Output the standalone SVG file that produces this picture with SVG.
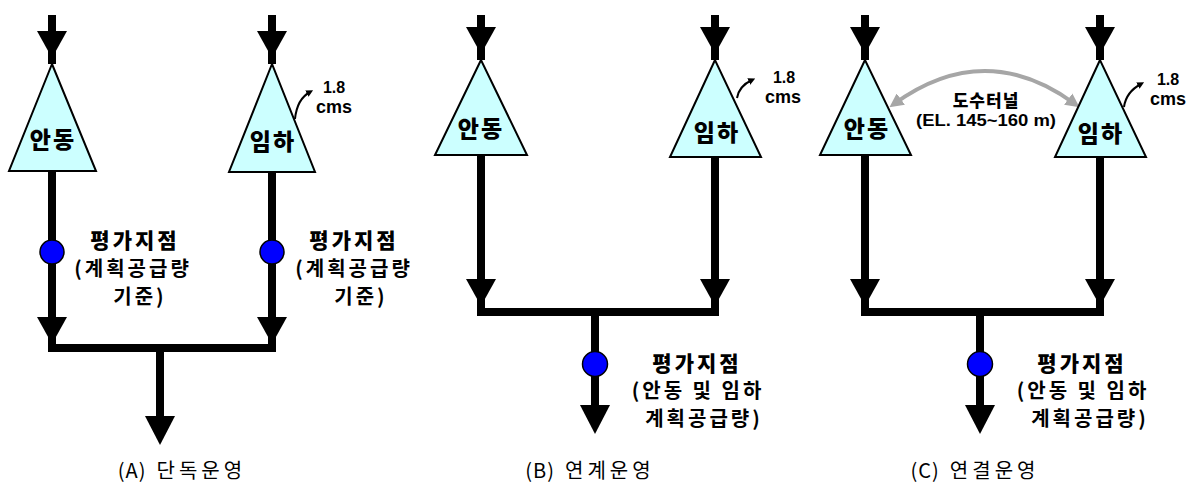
<svg xmlns="http://www.w3.org/2000/svg" width="1197" height="484" viewBox="0 0 1197 484">
<style>
.res{fill:#ccffff;stroke:#000;stroke-width:2;stroke-linejoin:miter}
.pt{fill:#0000ff;stroke:#000;stroke-width:1.5}
.flow{fill:none;stroke:#000;stroke-width:8;stroke-linejoin:miter;stroke-linecap:butt}
.ah{fill:#000}
.rl{font-family:"Noto Sans CJK KR","Noto Sans",sans-serif;font-weight:900;font-size:23px;letter-spacing:2px;text-anchor:middle}
.ev{font-family:"Noto Sans CJK KR","Noto Sans",sans-serif;font-weight:900;font-size:21px;letter-spacing:3px;text-anchor:middle}
.ev2{font-family:"Noto Sans CJK KR","Noto Sans",sans-serif;font-weight:bold;font-size:20px;letter-spacing:3px;text-anchor:middle}
.cap{font-family:"Noto Sans CJK KR","Noto Sans",sans-serif;font-size:20px;text-anchor:middle;letter-spacing:1px}
.ks{letter-spacing:4px}
.q{font-family:"Liberation Sans",Arial,sans-serif;font-weight:bold;text-anchor:middle}
.sm{fill:none;stroke:#000;stroke-width:2}
.tun{fill:none;stroke:#a6a6a6;stroke-width:4}
</style>
<defs>
<path id="ahA" d="M-15,0 L15,0 L0,27 Z"/>
<path id="ahO" d="M-15,0 L15,0 L0,29 Z"/>
<marker id="sa" viewBox="0 0 10 10" refX="5" refY="5" markerWidth="7" markerHeight="7" orient="auto" markerUnits="userSpaceOnUse">
<path d="M0,0 L10,5 L0,10 Z" fill="#000"/>
</marker>
<marker id="ga" viewBox="0 0 10 10" refX="6" refY="5" markerWidth="14" markerHeight="14" orient="auto-start-reverse" markerUnits="userSpaceOnUse">
<path d="M0,0 L10,5 L0,10 Z" fill="#a6a6a6"/>
</marker>
</defs>

<g id="connectors">
<path class="flow" d="M52,15 V64"/>
<path class="flow" d="M272,15 V64"/>
<path class="flow" d="M52,171 V348 H272 V172"/>
<path class="flow" d="M160,348 V430"/>
<use href="#ahA" class="ah" x="52" y="31"/>
<use href="#ahA" class="ah" x="272" y="31"/>
<use href="#ahA" class="ah" x="52" y="317"/>
<use href="#ahA" class="ah" x="272" y="317"/>
<use href="#ahO" class="ah" x="160" y="416"/>
<path class="flow" d="M481,15 V60"/>
<path class="flow" d="M715,15 V60"/>
<path class="flow" d="M481,155 V312 H715 V157"/>
<path class="flow" d="M595,312 V420"/>
<use href="#ahA" class="ah" x="481" y="27"/>
<use href="#ahA" class="ah" x="715" y="27"/>
<use href="#ahA" class="ah" x="481" y="279"/>
<use href="#ahA" class="ah" x="715" y="279"/>
<use href="#ahO" class="ah" x="595" y="405"/>
<path class="flow" d="M865,15 V60"/>
<path class="flow" d="M1100,15 V60"/>
<path class="flow" d="M865,155 V312 H1100 V157"/>
<path class="flow" d="M980,312 V420"/>
<use href="#ahA" class="ah" x="865" y="27"/>
<use href="#ahA" class="ah" x="1100" y="27"/>
<use href="#ahA" class="ah" x="865" y="279"/>
<use href="#ahA" class="ah" x="1100" y="279"/>
<use href="#ahO" class="ah" x="980" y="405"/>
<path class="tun" d="M894,104 Q985,38 1075,104" marker-start="url(#ga)" marker-end="url(#ga)"/>
<path class="sm" d="M295,119 Q297,99 310,92" marker-end="url(#sa)"/>
<path class="sm" d="M737,98 Q739,86 752,80" marker-end="url(#sa)"/>
<path class="sm" d="M1124,107 Q1126,92 1141,84" marker-end="url(#sa)"/>
</g>

<g id="A-andong"><polygon class="res" points="52,64 9,171 96,171"/><text class="rl" x="53" y="148">안동</text></g>
<g id="A-imha"><polygon class="res" points="272,64 229,172 315,172"/><text class="rl" x="273" y="150">임하</text>
<text class="q" x="334" y="93" font-size="16">1.8</text><text class="q" x="334" y="113" font-size="18">cms</text></g>
<g id="A-eval-left"><circle class="pt" cx="52" cy="252" r="12"/>
<text class="ev" x="135" y="248">평가지점</text><text class="ev2" x="133" y="276">(계획공급량</text><text class="ev2" x="140" y="304">기준)</text></g>
<g id="A-eval-right"><circle class="pt" cx="272" cy="252" r="12"/>
<text class="ev" x="354" y="248">평가지점</text><text class="ev2" x="354" y="276">(계획공급량</text><text class="ev2" x="361" y="304">기준)</text></g>
<g id="A-caption"><text class="cap" x="182" y="478">(A)<tspan class="ks" dx="10">단독운영</tspan></text></g>

<g id="B-andong"><polygon class="res" points="481,60 435,155 527,155"/><text class="rl" x="481" y="137">안동</text></g>
<g id="B-imha"><polygon class="res" points="715,60 670,157 761,157"/><text class="rl" x="717" y="141">임하</text>
<text class="q" x="784" y="83" font-size="16">1.8</text><text class="q" x="783" y="103" font-size="18">cms</text></g>
<g id="B-eval"><circle class="pt" cx="595" cy="364" r="12.5"/>
<text class="ev" x="697" y="371">평가지점</text><text class="ev2" x="698" y="398">(안동 및 임하</text><text class="ev2" x="704" y="426">계획공급량)</text></g>
<g id="B-caption"><text class="cap" x="590" y="478">(B)<tspan class="ks" dx="10">연계운영</tspan></text></g>

<g id="C-andong"><polygon class="res" points="865,60 820,155 911,155"/><text class="rl" x="867" y="137">안동</text></g>
<g id="C-imha"><polygon class="res" points="1100,60 1055,157 1146,157"/><text class="rl" x="1101" y="142">임하</text>
<text class="q" x="1168" y="85" font-size="16">1.8</text><text class="q" x="1168" y="105" font-size="18">cms</text></g>
<g id="C-tunnel-label"><text x="986" y="107" style="font-family:'Noto Sans CJK KR','Noto Sans',sans-serif;font-weight:900;font-size:17px;letter-spacing:1px;text-anchor:middle">도수터널</text>
<text class="q" x="986" y="126" font-size="16" textLength="140" lengthAdjust="spacingAndGlyphs">(EL. 145~160 m)</text></g>
<g id="C-eval"><circle class="pt" cx="980" cy="364" r="12.5"/>
<text class="ev" x="1082" y="371">평가지점</text><text class="ev2" x="1083" y="398">(안동 및 임하</text><text class="ev2" x="1090" y="426">계획공급량)</text></g>
<g id="C-caption"><text class="cap" x="975" y="478">(C)<tspan class="ks" dx="10">연결운영</tspan></text></g>
</svg>
